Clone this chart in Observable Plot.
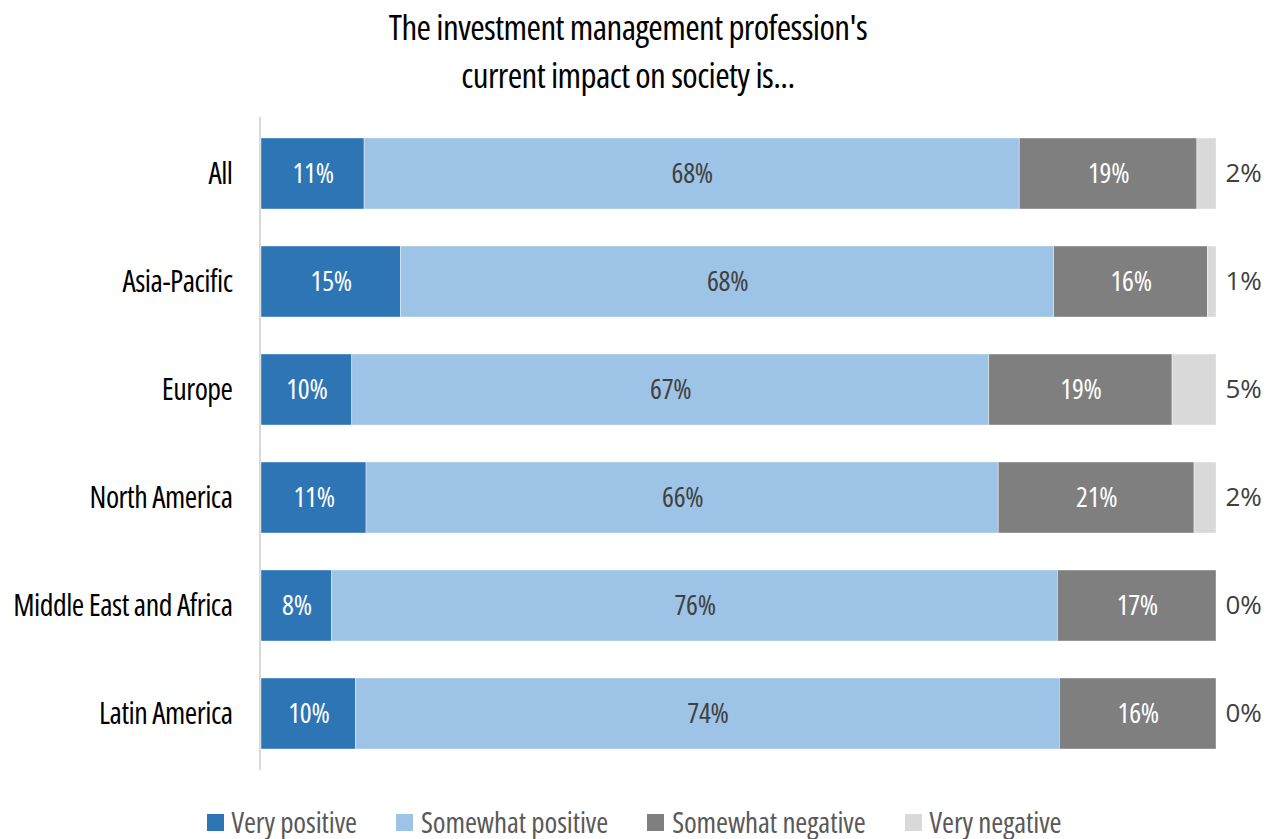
<!DOCTYPE html>
<html>
<head>
<meta charset="utf-8">
<script src="https://cdn.jsdelivr.net/npm/d3@7"></script>
<script src="https://cdn.jsdelivr.net/npm/@observablehq/plot@0.6"></script>
<style>
  html, body { margin: 0; padding: 0; background: #fff; }
  body { width: 1268px; height: 839px; position: relative; overflow: hidden;
         font-family: "Open Sans", sans-serif; font-stretch: condensed; }
  #title { position: absolute; left: 0; top: 3px; width: 1256px; text-align: center;
           font-size: 35px; line-height: 48px; color: #000; letter-spacing: -0.6px; }
  #chart { position: absolute; left: 0; top: 100px; }
  #legend { position: absolute; left: 0; top: 805px; width: 1268px; height: 34px; display: flex; justify-content: center;
            align-items: center; gap: 39px; font-size: 29px; line-height: 34px; color: #595959; letter-spacing: -0.1px; }
  .item { display: flex; align-items: center; gap: 8px; }
  .sw { width: 17px; height: 17px; display: inline-block; }
</style>
</head>
<body>
<div id="title">The investment management profession's<br>current impact on society is...</div>
<div id="chart"></div>
<div id="legend"></div>
<script>
const regions = ["All", "Asia-Pacific", "Europe", "North America", "Middle East and Africa", "Latin America"];
const series = ["Very positive", "Somewhat positive", "Somewhat negative", "Very negative"];
const colors = ["#2E75B6", "#9DC3E6", "#7F7F7F", "#D9D9D9"];

// segment sizes (share of respondents, %)
const veryPositive     = [10.8, 14.6,  9.5, 11.0,  7.4,  9.9];
const somewhatPositive = [68.6, 68.4, 66.7, 66.2, 76.0, 73.7];
const somewhatNegative = [18.6, 16.1, 19.2, 20.5, 16.6, 16.4];
const veryNegative     = [ 2.0,  0.9,  4.6,  2.3,  0.0,  0.0];

// printed labels (%)
const labelVeryPositive     = [11, 15, 10, 11, 8, 10];
const labelSomewhatPositive = [68, 68, 67, 66, 76, 74];
const labelSomewhatNegative = [19, 16, 19, 21, 17, 16];
const labelVeryNegative     = [2, 1, 5, 2, 0, 0];

const values = [veryPositive, somewhatPositive, somewhatNegative, veryNegative];
const labels = [labelVeryPositive, labelSomewhatPositive, labelSomewhatNegative, labelVeryNegative];

const data = [];
series.forEach((s, si) => regions.forEach((r, ri) => {
  data.push({region: r, series: s, value: values[si][ri], label: labels[si][ri]});
}));
const totals = regions.map((r, i) => values.reduce((a, v) => a + v[i], 0));

const font = '"Open Sans", sans-serif';

const plot = Plot.plot({
  width: 1268,
  height: 690,
  marginLeft: 261,
  marginRight: 52,
  marginTop: 17,
  marginBottom: 20,
  style: {fontFamily: font, background: "white", overflow: "visible"},
  x: {domain: [0, 100], axis: null},
  y: {domain: regions, paddingInner: 0.34, paddingOuter: 0.17, label: null},
  color: {domain: series, range: colors},
  marks: [
    Plot.axisY({tickSize: 0, tickPadding: 29, fontSize: 30, label: null, fill: "#000"}),
    Plot.ruleX([0], {stroke: "#D9D9D9", strokeWidth: 2, dx: -1.5}),
    Plot.barX(data, Plot.stackX({x: "value", y: "region", fill: "series", order: series,
      stroke: "white", strokeWidth: 0.8, strokeOpacity: 0.5})),
    Plot.text(data.filter(d => d.series !== "Very negative"), Plot.stackX({
      x: "value", y: "region", z: "series", order: series.slice(0, 3),
      text: d => d.label + "%",
      fill: d => d.series === "Somewhat positive" ? "#404040" : "#ffffff",
      fontSize: 28
    })),
    Plot.text(regions, {
      x: (d, i) => totals[i], y: d => d,
      text: (d, i) => labelVeryNegative[i] + "%",
      textAnchor: "start", dx: 9, fill: "#404040", fontSize: 26
    })
  ]
});
document.getElementById("chart").appendChild(plot);

// condensed type for axis and in-bar labels, letter-spacing to match
d3.select(plot).selectAll('g[aria-label="y-axis tick label"] text').style("letter-spacing", "-0.5px");
const textGroups = d3.select(plot).selectAll('g[aria-label="text"]').nodes();
d3.select(textGroups[textGroups.length - 1]).style("font-stretch", "normal");
d3.select(textGroups[0]).style("letter-spacing", "-0.3px");

const legend = document.getElementById("legend");
series.forEach((s, i) => {
  const it = document.createElement("div");
  it.className = "item";
  it.innerHTML = `<span class="sw" style="background:${colors[i]}"></span><span>${s}</span>`;
  legend.appendChild(it);
});
</script>
</body>
</html>
